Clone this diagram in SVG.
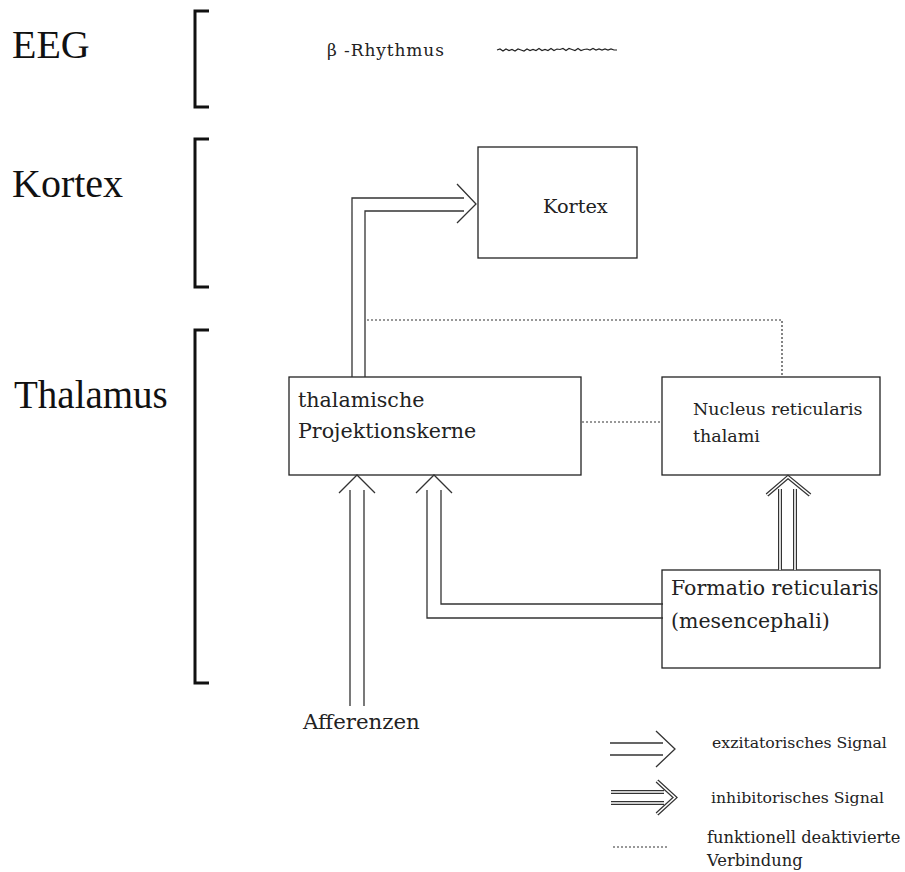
<svg xmlns="http://www.w3.org/2000/svg" width="905" height="872" viewBox="0 0 905 872">
  <style>
    .big { font-size: 40px; fill: #111; }
    .lbl { fill: #222; }
    .box { fill: #fff; stroke: #222; stroke-width: 1.3; }
    .bracket { fill: none; stroke: #111; stroke-width: 3; }
    .exc { fill: none; stroke: #333; stroke-width: 1.3; }
    .dot { fill: none; stroke: #333; stroke-width: 1.2; stroke-dasharray: 2 2; }
    .inh-o { fill: none; stroke: #333; stroke-width: 4; stroke-linejoin: miter; }
    .inh-i { fill: none; stroke: #fff; stroke-width: 1.6; }
    .wave { fill: none; stroke: #222; stroke-width: 1.2; }
  </style>

  <rect width="905" height="872" fill="#fff"/>

  <!-- level labels with brackets -->
  <g id="level-eeg" font-family="Liberation Serif, serif">
    <text class="big" x="12" y="58" font-size="41">EEG</text>
    <path class="bracket" d="M209 11 H195 V107 H209"/>
  </g>
  <g id="level-kortex" font-family="Liberation Serif, serif">
    <text class="big" x="12" y="197">Kortex</text>
    <path class="bracket" d="M209 139 H195 V287 H209"/>
  </g>
  <g id="level-thalamus" font-family="Liberation Serif, serif">
    <text class="big" x="14" y="408" style="font-size:39px">Thalamus</text>
    <path class="bracket" d="M209 330 H195 V683 H209"/>
  </g>

  <!-- EEG rhythm -->
  <g id="beta-rhythm" font-family="DejaVu Serif, serif">
    <text class="lbl" x="327" y="56" font-size="17" letter-spacing="0.9">β -Rhythmus</text>
    <path class="wave" d="M497 50 l3 -1 l3 2 l3 -2 l3 1.5 l3 -1 l3 1.5 l3 -2 l3 1 l3 1 l3 -2 l3 1.5 l3 -1 l3 1 l3 -2 l3 2 l3 -1 l3 1 l3 -2 l3 2 l3 -1.5 l3 0.5 l3 -1 l3 2 l3 -2 l3 1 l3 1 l3 -2 l3 2 l3 -1 l3 -0.5 l3 1 l3 -1.5 l3 1.5 l3 -1 l3 1 l3 -1 l3 1 l3 -1 l3 1 l3 0"/>
  </g>

  <!-- nodes -->
  <g id="kortex" font-family="DejaVu Serif, serif">
    <rect class="box" x="478" y="147" width="159" height="111"/>
    <text class="lbl" x="543" y="213" font-size="19.3">Kortex</text>
  </g>
  <g id="projektionskerne" font-family="DejaVu Serif, serif">
    <rect class="box" x="289" y="377" width="292" height="98"/>
    <text class="lbl" x="298" y="407" font-size="20.6">thalamische</text>
    <text class="lbl" x="298" y="438" font-size="20.6">Projektionskerne</text>
  </g>
  <g id="nucleus-reticularis" font-family="DejaVu Serif, serif">
    <rect class="box" x="662" y="377" width="218" height="98"/>
    <text class="lbl" x="693" y="415" font-size="17.5">Nucleus reticularis</text>
    <text class="lbl" x="693" y="442" font-size="17.5">thalami</text>
  </g>
  <g id="formatio-reticularis" font-family="DejaVu Serif, serif">
    <rect class="box" x="662" y="570" width="218" height="98"/>
    <text class="lbl" x="671" y="595" font-size="20.5">Formatio reticularis</text>
    <text class="lbl" x="671" y="628" font-size="20.5">(mesencephali)</text>
  </g>
  <g id="afferenzen" font-family="DejaVu Serif, serif">
    <text class="lbl" x="303" y="729" font-size="21.3">Afferenzen</text>
  </g>

  <!-- connectors -->
  <g id="connectors">
    <!-- thalamic projection nuclei to cortex (excitatory) -->
    <path class="exc" d="M352 377 V198 H464 M365 377 V211 H464 M457 184 L476 204 L457 223"/>
    <!-- afferents to projection nuclei (excitatory) -->
    <path class="exc" d="M350 706 V490 M364 706 V490 M339 493 L357 475 L375 493"/>
    <!-- formatio reticularis to projection nuclei (excitatory) -->
    <path class="exc" d="M663 618 H427 V490 M663 604 H441 V490 M416 493 L434 475 L452 493"/>
    <!-- formatio reticularis to nucleus reticularis (inhibitory) -->
    <path class="inh-o" d="M780 570 V489 M795 570 V489 M767 495 L788 477 L810 495"/>
    <path class="inh-i" d="M780 570 V489 M795 570 V489 M767 495 L788 477 L810 495"/>
    <!-- deactivated connections -->
    <path class="dot" d="M367 320 H782 V376"/>
    <path class="dot" d="M582 422 H661"/>
  </g>

  <!-- legend -->
  <g id="legend" font-family="DejaVu Serif, serif">
    <path class="exc" d="M610 743 H663 M610 755 H663 M656 731 L675 749 L656 767"/>
    <text class="lbl" x="712" y="748" font-size="15.7">exzitatorisches  Signal</text>
    <path class="inh-o" d="M611 792 H664 M611 803 H664 M657 781 L675 797.5 L657 814"/>
    <path class="inh-i" d="M611 792 H664 M611 803 H664 M657 781 L675 797.5 L657 814"/>
    <text class="lbl" x="711" y="803" font-size="15.7">inhibitorisches Signal</text>
    <path class="dot" d="M613 847 H667"/>
    <text class="lbl" x="707" y="843" font-size="16.3">funktionell deaktivierte</text>
    <text class="lbl" x="707" y="866" font-size="16.3">Verbindung</text>
  </g>
</svg>
